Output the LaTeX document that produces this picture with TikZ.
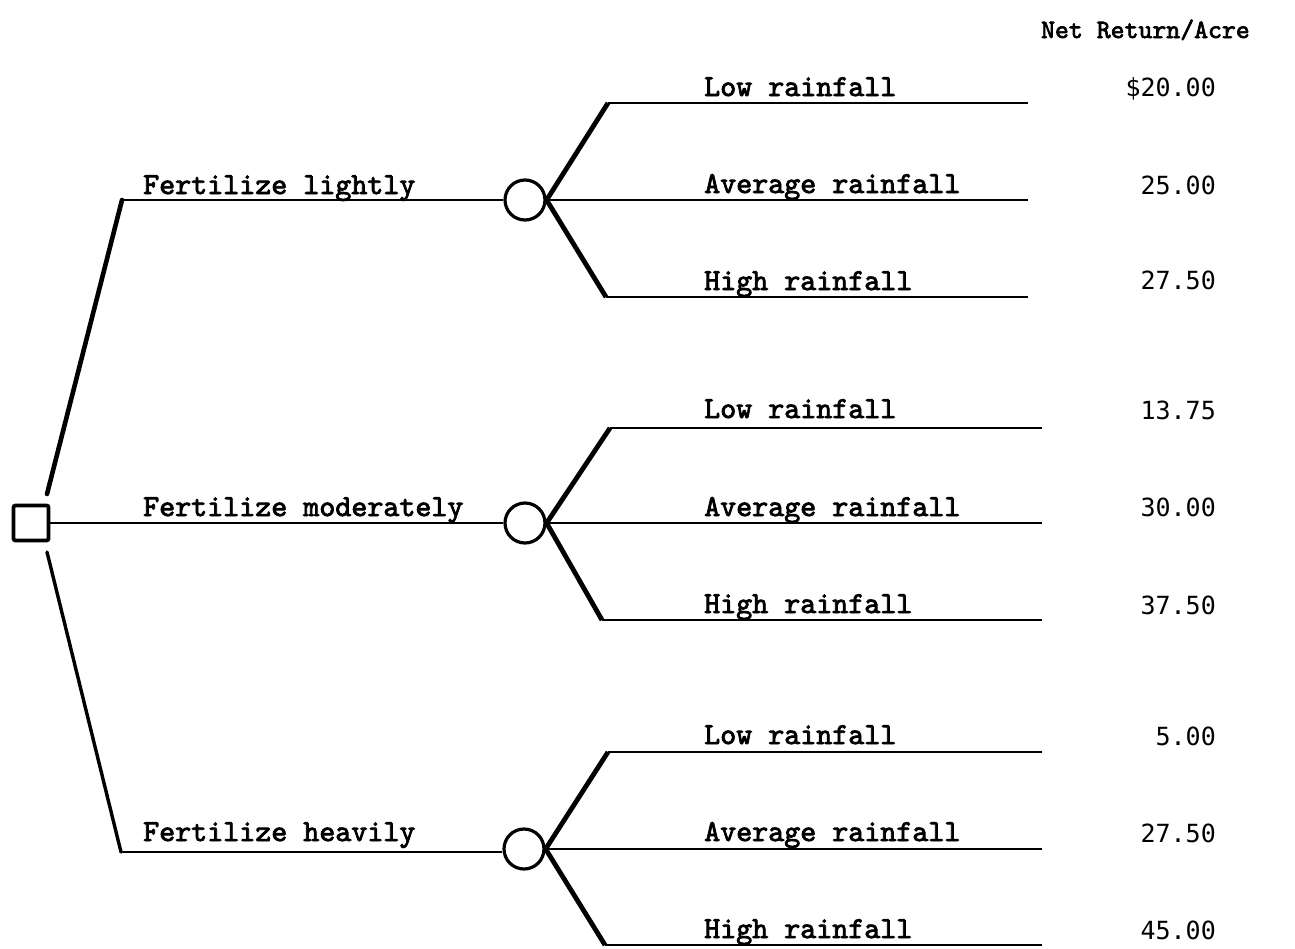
\documentclass[tikz,border=0pt]{standalone}
\usepackage{fontspec}
\newfontfamily\numfont{DejaVu Sans Mono}
\newfontfamily\labfont{lmmono10-regular.otf}[FakeBold=2.6]
\begin{document}
\begin{tikzpicture}[x=1pt,y=-1pt,
  hline/.style={line width=2.8pt},
  diag/.style={line width=4.8pt},
  chance/.style={circle,draw,line width=3.2pt,minimum size=40pt,inner sep=0pt},
  decision/.style={rectangle,draw,line width=3.8pt,minimum size=35pt,inner sep=0pt,rounded corners=2pt},
  lab/.style={anchor=base west,inner sep=0pt,font=\fontsize{30.5}{34}\selectfont\labfont},
  val/.style={anchor=base east,inner sep=0pt,font=\fontsize{25}{30}\selectfont\numfont},
  head/.style={anchor=base east,inner sep=0pt,font=\fontsize{26.5}{30}\selectfont\labfont}]
\useasboundingbox (0,0) rectangle (1295,948);

% decision node
\node[decision] (d) at (31,523) {};
% chance nodes
\node[chance] (c1) at (525,200) {};
\node[chance] (c2) at (525,523) {};
\node[chance] (c3) at (524,849) {};

% decision branches
\coordinate (u0) at (47,494);
\coordinate (u1) at (122,200);
\coordinate (l0) at (47,552);
\coordinate (l1) at (121,852);
\draw[line width=4.6pt,line cap=round] (u0) -- (u1);
\draw[hline] (u1) -- (c1.west);
\draw[hline] (d.east) -- (c2.west);
\draw[line width=3.4pt,line cap=round] (l0) -- (l1);
\draw[hline] (l1) -- (c3.west|-l1);

% outcome branches group 1
\coordinate (a1) at (608,103); \coordinate (a1e) at (1028,103);
\coordinate (b1e) at (1028,200);
\coordinate (e1) at (606,297); \coordinate (e1e) at (1028,297);
\draw[diag] (c1.east) -- (a1);
\draw[hline] (a1) -- (a1e);
\draw[hline] (c1.east) -- (b1e);
\draw[diag] (c1.east) -- (e1);
\draw[hline] (e1) -- (e1e);

% group 2
\coordinate (a2) at (610,428); \coordinate (a2e) at (1042,428);
\coordinate (b2e) at (1042,523);
\coordinate (e2) at (602,620); \coordinate (e2e) at (1042,620);
\draw[diag] (c2.east) -- (a2);
\draw[hline] (a2) -- (a2e);
\draw[hline] (c2.east) -- (b2e);
\draw[diag] (c2.east) -- (e2);
\draw[hline] (e2) -- (e2e);

% group 3
\coordinate (a3) at (608,752); \coordinate (a3e) at (1042,752);
\coordinate (b3e) at (1042,849);
\coordinate (e3) at (605,945); \coordinate (e3e) at (1042,945);
\draw[diag] (c3.east) -- (a3);
\draw[hline] (a3) -- (a3e);
\draw[hline] (c3.east) -- (b3e);
\draw[diag] (c3.east) -- (e3);
\draw[hline] (e3) -- (e3e);

% decision labels
\node[lab] (f1) at (143,194) {Fertilize lightly};
\node[lab] (f2) at (143,516) {Fertilize moderately};
\node[lab] (f3) at (143,841) {Fertilize heavily};

% outcome labels
\node[lab] (o11) at (704,96) {Low rainfall};
\node[lab] (o12) at (704,193) {Average rainfall};
\node[lab] (o13) at (704,290) {High rainfall};
\node[lab] (o21) at (704,418) {Low rainfall};
\node[lab] (o22) at (704,516) {Average rainfall};
\node[lab] (o23) at (704,613) {High rainfall};
\node[lab] (o31) at (704,744) {Low rainfall};
\node[lab] (o32) at (704,841) {Average rainfall};
\node[lab] (o33) at (704,938) {High rainfall};

% header and values
\node[head] (h) at (1250,38) {Net Return/Acre};
\node[val] (v11) at (1216,96) {\$20.00};
\node[val] (v12) at (1216,194) {25.00};
\node[val] (v13) at (1216,289) {27.50};
\node[val] (v21) at (1216,419) {13.75};
\node[val] (v22) at (1216,516) {30.00};
\node[val] (v23) at (1216,614) {37.50};
\node[val] (v31) at (1216,745) {5.00};
\node[val] (v32) at (1216,842) {27.50};
\node[val] (v33) at (1216,939) {45.00};
\end{tikzpicture}
\end{document}
